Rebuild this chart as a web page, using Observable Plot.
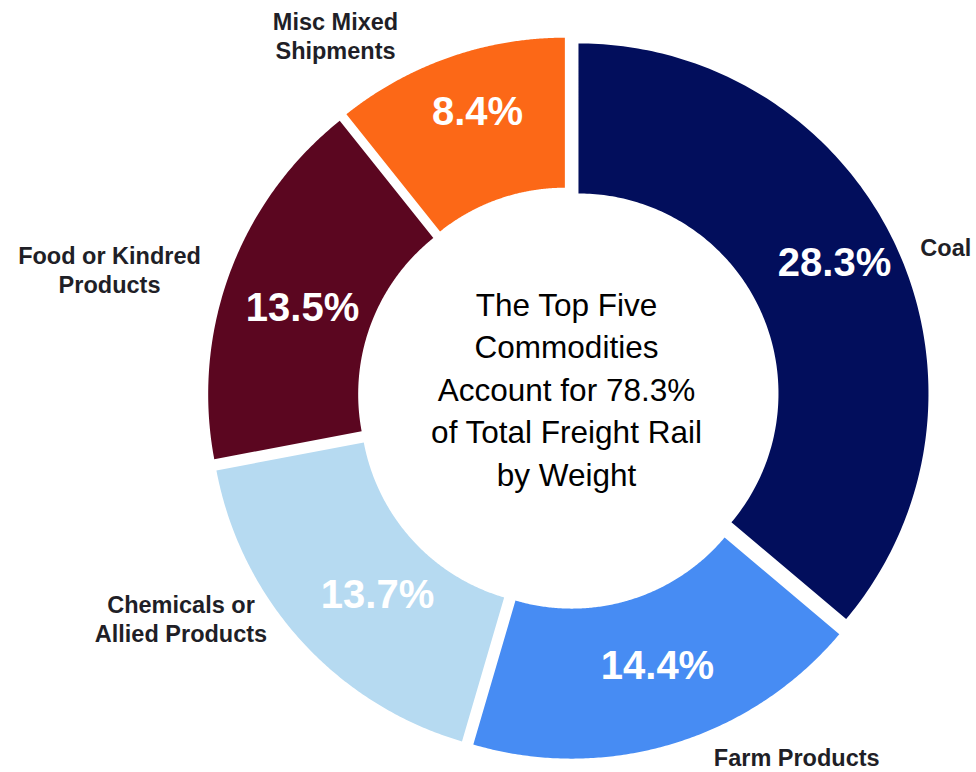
<!DOCTYPE html>
<html>
<head>
<meta charset="utf-8">
<script src="https://cdn.jsdelivr.net/npm/d3@7"></script>
<script src="https://cdn.jsdelivr.net/npm/@observablehq/plot@0.6"></script>
<style>
  html, body { margin: 0; padding: 0; background: #fff; }
  #chart { width: 976px; height: 772px; }
</style>
</head>
<body>
<div id="chart"></div>
<script>
// ---- Data ----
const categories = ["Coal", "Farm Products", "Chemicals or Allied Products", "Food or Kindred Products", "Misc Mixed Shipments"];
const categoryLabels = ["Coal", "Farm Products", "Chemicals or\nAllied Products", "Food or Kindred\nProducts", "Misc Mixed\nShipments"];
const shares = [28.3, 14.4, 13.7, 13.5, 8.4];
const valueLabels = ["28.3%", "14.4%", "13.7%", "13.5%", "8.4%"];
const centerText = "The Top Five\nCommodities\nAccount for 78.3%\nof Total Freight Rail\nby Weight";

// ---- Style ----
const sliceColors = ["#020e5c", "#478cf3", "#b6daf1", "#5b0620", "#fc6817"];
const W = 976, H = 772;
const PX = 350;              // pixels per unit radius
const CX = 568, CY = 397.6;  // donut centre in pixels
const R_OUT = 1, R_IN = 200 / PX, EXPLODE = 11 / PX;
// manual label nudges (pixels), like hand-placed labels in the original
const catNudge = [[50, -2], [124, -14], [-120, 20.5], [-120.5, 1.5], [-113.6, 20.4]];
const valNudge = [[6.7, 13.9], [6.4, 5.4], [21, -5.4], [2.2, -9.9], [3.6, 15.7]];
const FONT = "'Liberation Sans', Arial, Helvetica, sans-serif";

// ---- Geometry from data ----
const total = d3.sum(shares);
let acc = 0;
const slices = shares.map((v, i) => {
  const a0 = acc / total * 2 * Math.PI;
  acc += v;
  const a1 = acc / total * 2 * Math.PI;
  const mid = (a0 + a1) / 2;
  return {name: categories[i], a0, a1, mid, ox: EXPLODE * Math.sin(mid), oy: EXPLODE * Math.cos(mid), i};
});

const pts = [];
for (const s of slices) {
  const n = 160;
  for (let k = 0; k <= n; k++) {
    const a = s.a0 + (s.a1 - s.a0) * k / n;
    pts.push({name: s.name, x: s.ox + R_OUT * Math.sin(a), y: s.oy + R_OUT * Math.cos(a)});
  }
  for (let k = n; k >= 0; k--) {
    const a = s.a0 + (s.a1 - s.a0) * k / n;
    pts.push({name: s.name, x: s.ox + R_IN * Math.sin(a), y: s.oy + R_IN * Math.cos(a)});
  }
}

const valPts = slices.map(s => {
  const rr = (R_OUT + R_IN) / 2 + EXPLODE;
  return {
    text: valueLabels[s.i],
    x: rr * Math.sin(s.mid) + valNudge[s.i][0] / PX,
    y: rr * Math.cos(s.mid) + valNudge[s.i][1] / PX
  };
});

const catPts = slices.map(s => {
  const rr = R_OUT + EXPLODE;
  return {
    text: categoryLabels[s.i],
    x: rr * Math.sin(s.mid) + catNudge[s.i][0] / PX,
    y: rr * Math.cos(s.mid) + catNudge[s.i][1] / PX
  };
});

const chart = Plot.plot({
  width: W,
  height: H,
  margin: 0,
  style: {background: "#fff", fontFamily: FONT},
  x: {domain: [-CX / PX, (W - CX) / PX], axis: null},
  y: {domain: [(CY - H) / PX, CY / PX], axis: null},
  color: {domain: categories, range: sliceColors},
  marks: [
    Plot.line(pts, {x: "x", y: "y", z: "name", fill: "name", stroke: "none", curve: "linear-closed"}),
    Plot.text(valPts, {x: "x", y: "y", text: "text", fill: "#ffffff", fontSize: 40, fontWeight: "bold", fontFamily: FONT}),
    Plot.text(catPts, {x: "x", y: "y", text: "text", fill: "#1f1f27", fontSize: 23.5, fontWeight: "bold", lineHeight: 1.24, fontFamily: FONT, dy: -1.5}),
    Plot.text([centerText], {x: () => 0, y: () => 0, text: d => d, fill: "#000", fontSize: 31.5, lineHeight: 1.35, fontFamily: FONT, dx: -2, dy: -11})
  ]
});
document.getElementById("chart").appendChild(chart);
</script>
</body>
</html>
